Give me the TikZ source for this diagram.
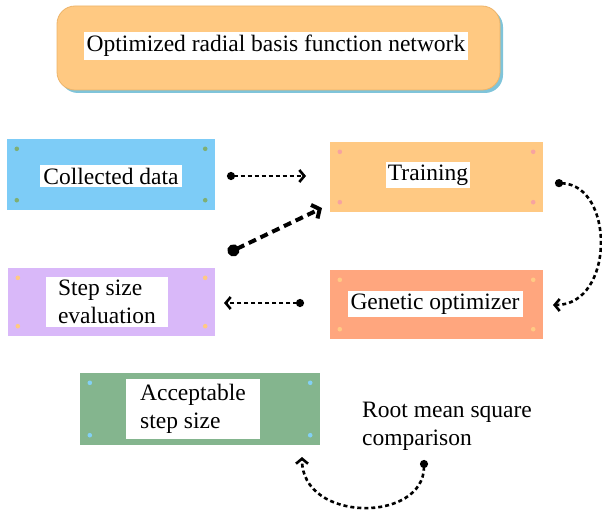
\documentclass[tikz,border=0pt]{standalone}
\usepackage{fontspec}
\setmainfont{Liberation Serif}
\usepackage{xcolor}
\usetikzlibrary{arrows.meta,calc,shadows}
\definecolor{net_orange}{HTML}{FFC982}
\definecolor{net_edge}{HTML}{EDB46A}
\definecolor{shadow_blue}{HTML}{7FC4DA}
\definecolor{data_blue}{HTML}{7DCCF7}
\definecolor{data_dot}{HTML}{7FAF73}
\definecolor{train_orange}{HTML}{FFC983}
\definecolor{train_dot}{HTML}{F7A3A0}
\definecolor{gen_salmon}{HTML}{FFA67E}
\definecolor{gen_dot}{HTML}{FFCA84}
\definecolor{eval_lilac}{HTML}{D9B8F9}
\definecolor{eval_dot}{HTML}{FFC983}
\definecolor{accept_green}{HTML}{84B58E}
\definecolor{accept_dot}{HTML}{83D0F5}

% four small dots near the corners of a box
\newcommand{\cornerdots}[2]{%
    \foreach \a/\dx/\dy in {north west/10/10, north east/-10/10,
                            south west/10/-10, south east/-10/-10}
        \fill[#2] ($(#1.\a)+(\dx,\dy)$) circle[radius=2.3pt];
}

\begin{document}
\begin{tikzpicture}[
                x=1pt,
                y=-1pt,
                font=\fontsize{23.5}{28}\selectfont,
                box/.style={rectangle, inner sep=0pt},
                label/.style={fill=white, inner sep=3pt, align=left},
                link/.style={line width=2.6pt, dash pattern=on 4pt off 3pt,
                    {Circle[length=8pt]}-{Straight Barb[length=5pt, width=12pt]}},
                biglink/.style={line width=4pt, dash pattern=on 8pt off 5pt,
                    {Circle[length=12pt]}-{Straight Barb[length=6pt, width=15pt]}}
            ]
            \useasboundingbox (0,0) rectangle (602,516);

            % Title box
            \node[box, rounded corners=18pt, fill=net_orange, draw=net_edge, line width=0.8pt,
                  minimum width=443pt, minimum height=84pt,
                  drop shadow={shadow xshift=3pt, shadow yshift=-3pt, fill=shadow_blue, opacity=1}]
                  (net) at (278.5,48) {};
            \node[label] (netlabel) at (276,46) {Optimized radial basis function network};

            % Process boxes
            \node[box, fill=data_blue, minimum width=208pt, minimum height=71pt] (cd) at (111,174.5) {};
            \node[label] (cdlabel) at (111,176) {Collected data};
            \cornerdots{cd}{data_dot}

            \node[box, fill=train_orange, minimum width=213pt, minimum height=70pt] (tr) at (436.5,177) {};
            \node[label, inner xsep=1.5pt] (trlabel) at (428,175) {Training};
            \cornerdots{tr}{train_dot}

            \node[box, fill=gen_salmon, minimum width=213pt, minimum height=69pt] (go) at (436.5,304.5) {};
            \node[label] (golabel) at (435,304) {Genetic optimizer};
            \cornerdots{go}{gen_dot}

            \node[box, fill=eval_lilac, minimum width=207pt, minimum height=68pt] (sse) at (111.5,302) {};
            \node[label, inner xsep=12pt] (sselabel) at (107,302) {Step size\\evaluation};
            \cornerdots{sse}{eval_dot}

            \node[box, fill=accept_green, minimum width=240pt, minimum height=72pt] (acc) at (200,409) {};
            \node[label, inner xsep=14pt, inner ysep=5pt] (acclabel) at (193,409) {Acceptable\\step size};
            \cornerdots{acc}{accept_dot}

            \node[align=left, anchor=west, inner sep=0pt] (rms) at (362,426) {Root mean square\\comparison};

            % Arrow ends
            \coordinate (cdout) at (227,176);
            \coordinate (trin) at (306,176);
            \coordinate (trout) at (555,183);
            \coordinate (goin) at (553,305);
            \coordinate (goout) at (304,303);
            \coordinate (ssein) at (224,303);
            \coordinate (sseout) at (228,253);
            \coordinate (trin2) at (322,208);
            \coordinate (rmsout) at (424,460);
            \coordinate (accin) at (302,457);

            % Connectors
            \draw[link] (cdout) -- (trin);
            \draw[link] (trout) .. controls (615,185) and (615,305) .. (goin);
            \draw[link] (goout) -- (ssein);
            \draw[biglink] (sseout) -- (trin2);
            \draw[link] (rmsout) .. controls (424,523) and (302,523) .. (accin);
        \end{tikzpicture}
\end{document}
